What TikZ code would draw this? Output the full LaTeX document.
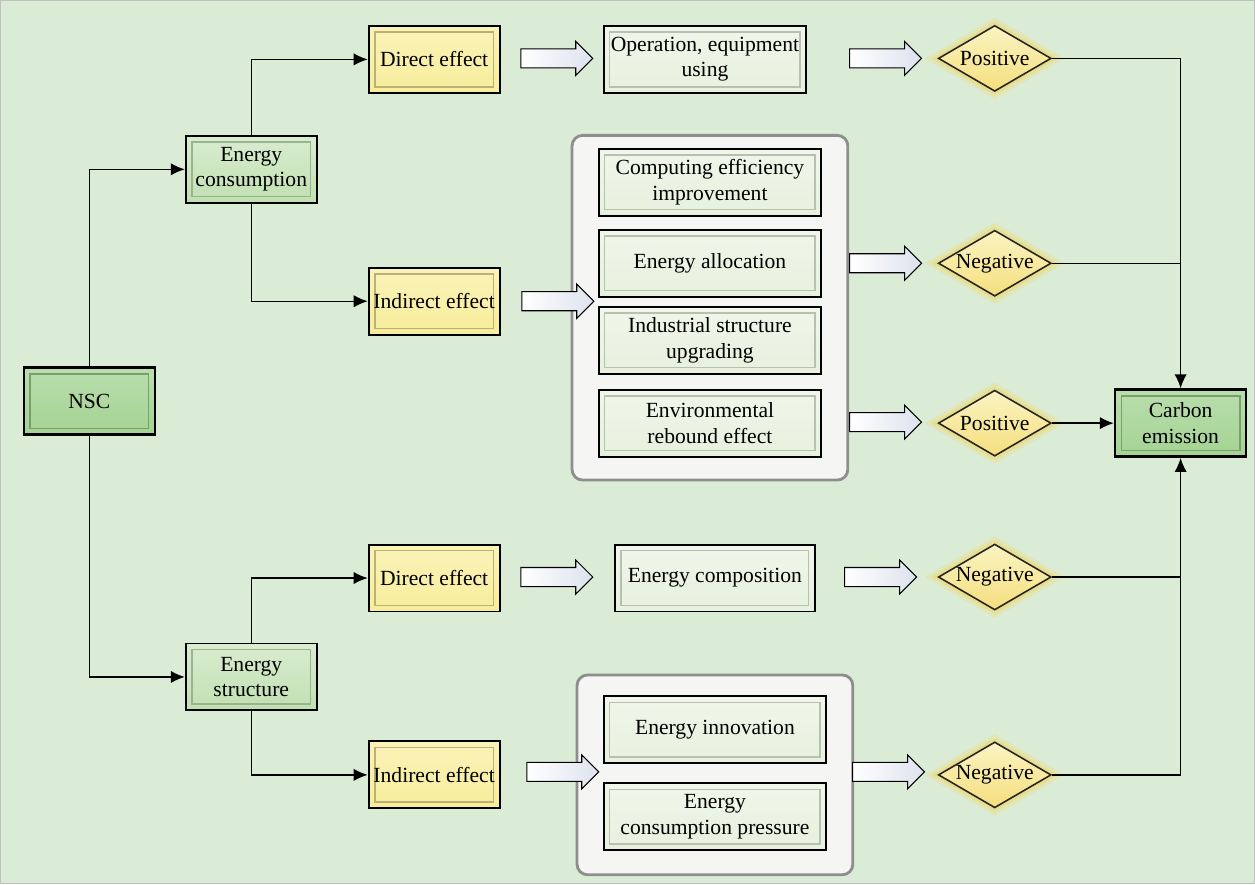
\documentclass[tikz,border=0pt]{standalone}
\usepackage{fontspec}
\setmainfont{Liberation Serif}
\usetikzlibrary{arrows.meta, shapes.geometric, shapes.arrows, positioning}
\definecolor{bg-green}{HTML}{DBECD6}
\definecolor{dark-green}{HTML}{A3D392}
\definecolor{mid-green}{HTML}{C0E0B1}
\definecolor{pale-green}{HTML}{E6F1DD}
\definecolor{effect-yellow}{HTML}{F8ED9B}
\definecolor{glow-yellow}{HTML}{F2D65C}
\definecolor{frame-gray}{HTML}{8E8E8E}
\definecolor{panel-white}{HTML}{F5F6F4}
\definecolor{arrow-blue}{HTML}{DDE2EE}

\begin{document}
\begin{tikzpicture}[x=0.02cm, y=-0.02cm,
      every node/.style={font=\fontsize{12.3}{14.5}\selectfont, align=center},
      bevel/.style={path picture={\draw[#1, line width=0.9pt]
          ([shift={(3.5pt,-3.5pt)}]path picture bounding box.north west) rectangle
          ([shift={(-3.5pt,3.5pt)}]path picture bounding box.south east);}},
      box/.style={draw=black, line width=1.1pt, minimum width=2.62cm, minimum height=1.34cm, inner sep=2pt},
      keybox/.style={box, line width=1.5pt, top color=dark-green!75!white, bottom color=dark-green, bevel=dark-green!75!black},
      groupbox/.style={box, top color=mid-green!60!white, bottom color=mid-green, bevel=mid-green!80!black},
      effectbox/.style={box, top color=effect-yellow!70!white, bottom color=effect-yellow, bevel=effect-yellow!75!black},
      itembox/.style={box, minimum width=4.46cm, top color=pale-green!60!white, bottom color=pale-green, bevel=pale-green!80!black},
      panel/.style={draw=frame-gray, line width=1.6pt, rounded corners=6pt, fill=panel-white},
      hollow/.style={shape=single arrow, draw=black, line width=0.6pt, left color=white, right color=arrow-blue,
          minimum height=1.44cm, inner xsep=0pt, inner ysep=0.18cm, single arrow head extend=0.15cm,
          single arrow head indent=0pt},
      sign/.style={shape=diamond, aspect=1.71, draw=black!85, line width=0.9pt, minimum width=2.26cm, minimum height=1.32cm,
          inner sep=0pt, top color=effect-yellow!60!white, bottom color=glow-yellow!80!white,
          preaction={draw=glow-yellow, line width=8pt, opacity=0.25},
          preaction={draw=glow-yellow, line width=4pt, opacity=0.45}},
      link/.style={line width=0.8pt, -{Latex[length=8pt,width=7pt]}},
      plain/.style={line width=0.8pt}]
    \fill[bg-green, draw=black!25, line width=0.5pt] (0,0) rectangle (1255,884);

    % left side
    \node[keybox] (nsc) at (89,401) {NSC};
    \node[groupbox] (ec) at (251,169) {Energy\\consumption};
    \node[groupbox] (es) at (251,677) {Energy\\structure};
    \node[effectbox] (de1) at (434,59) {Direct effect};
    \node[effectbox] (ie1) at (434,301) {Indirect effect};
    \node[effectbox] (de2) at (434,578) {Direct effect};
    \node[effectbox] (ie2) at (434,775) {Indirect effect};

    % middle
    \node[panel, minimum width=5.52cm, minimum height=6.9cm] (pan1) at (710,307.5) {};
    \node[panel, minimum width=5.52cm, minimum height=4cm] (pan2) at (715,775) {};
    \node[itembox, minimum width=4.06cm] (op) at (705,59) {Operation, equipment\\using};
    \node[itembox] (ce1) at (710,182) {Computing efficiency\\improvement};
    \node[itembox] (ea) at (710,263) {Energy allocation};
    \node[itembox] (isu) at (710,340) {Industrial structure\\upgrading};
    \node[itembox] (erb) at (710,423) {Environmental\\rebound effect};
    \node[itembox, minimum width=4cm] (eco) at (715,578) {Energy composition};
    \node[itembox] (ein) at (715,730) {Energy innovation};
    \node[itembox] (ecp) at (715,817) {Energy\\consumption pressure};

    % hollow arrows
    \node[hollow] (h1) at (552,58) {};
    \node[hollow] (h2) at (553,301) {};
    \node[hollow] (h3) at (552,577) {};
    \node[hollow] (h4) at (558,772) {};
    \node[hollow] (h5) at (881,58) {};
    \node[hollow] (h6) at (881,263) {};
    \node[hollow] (h7) at (881,422) {};
    \node[hollow] (h8) at (876,577) {};
    \node[hollow] (h9) at (884,772) {};

    % right side
    \node[sign] (pos1) at (995,58) {Positive};
    \node[sign] (neg1) at (995,263) {Negative};
    \node[sign] (pos2) at (995,423) {Positive};
    \node[sign] (neg2) at (995,577) {Negative};
    \node[sign] (neg3) at (995,775) {Negative};
    \node[keybox] (co2) at (1181,423) {Carbon\\emission};

    \draw[link] (nsc.north) |- (ec.west);
    \draw[link] (nsc.south) |- (es.west);
    \draw[link] (ec.north) |- (de1.west);
    \draw[link] (ec.south) |- (ie1.west);
    \draw[link] (es.north) |- (de2.west);
    \draw[link] (es.south) |- (ie2.west);

    \draw[link] (pos1.east) -| (co2.north);
    \draw[plain] (neg1.east) -- (neg1.east -| co2.north);
    \draw[link] (pos2.east) -- (co2.west);
    \draw[plain] (neg2.east) -- (neg2.east -| co2.south);
    \draw[link] (neg3.east) -| (co2.south);
\end{tikzpicture}
\end{document}
